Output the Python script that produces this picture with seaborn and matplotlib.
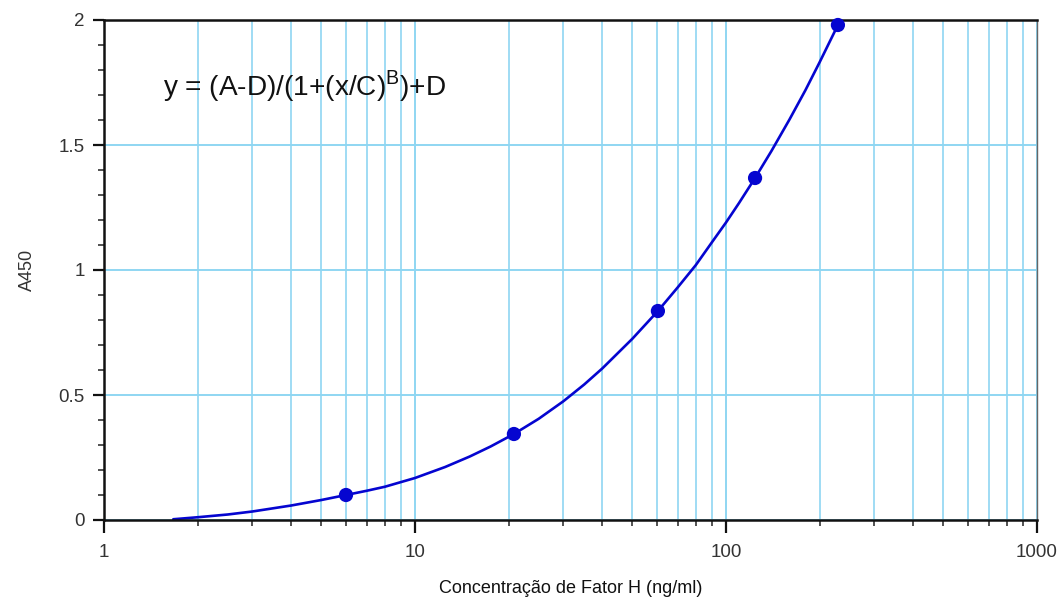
import numpy as np
import pandas as pd
import matplotlib
matplotlib.use('Agg')
import matplotlib.pyplot as plt
import seaborn as sns
from matplotlib.ticker import LogLocator, NullFormatter, MultipleLocator

# standards (measured points)
conc = [6.0, 20.8, 60.4, 124.0, 229.0]
a450 = [0.10, 0.344, 0.836, 1.368, 1.98]

# fitted curve
curve_x = [1.67, 2, 2.5, 3, 4, 5, 6, 7, 8, 10, 12.5, 15, 17.5, 20.8, 25, 30, 35, 40,
           50, 60.4, 70, 80, 90, 100, 110, 124, 140, 160, 180, 200, 229]
curve_y = [0.003, 0.011, 0.022, 0.034, 0.058, 0.08, 0.10, 0.117, 0.133, 0.168, 0.212,
           0.254, 0.294, 0.344, 0.405, 0.475, 0.542, 0.606, 0.725, 0.836, 0.931, 1.02,
           1.11, 1.19, 1.267, 1.368, 1.476, 1.602, 1.719, 1.831, 1.98]

x_ticks = [1, 10, 100, 1000]
y_ticks = [0, 0.5, 1, 1.5, 2]
y_tick_labels = ['0', '0.5', '1', '1.5', '2']

pts = pd.DataFrame({'conc': conc, 'a450': a450})
fit = pd.DataFrame({'conc': curve_x, 'a450': curve_y})

sns.set_style('white')
plt.rcParams['font.family'] = ['Liberation Sans', 'DejaVu Sans']

fig = plt.figure(figsize=(10.63, 6.01), dpi=100)
ax = fig.add_axes([104/1063, 81/601, 933/1063, 500/601])

grid_col = '#8fd6f2'
blue = '#0505d0'

sns.lineplot(data=fit, x='conc', y='a450', ax=ax, color=blue, lw=1.9)
sns.scatterplot(data=pts, x='conc', y='a450', ax=ax, color=blue, s=105,
                edgecolor='none', zorder=5, clip_on=False)

ax.set_xscale('log')
ax.set_xlim(1, 1000)
ax.set_ylim(0, 2)
ax.xaxis.set_minor_locator(LogLocator(base=10, subs=np.arange(2, 10), numticks=10))
ax.xaxis.set_minor_formatter(NullFormatter())
ax.set_xticks(x_ticks)
ax.set_xticklabels([str(t) for t in x_ticks])
ax.set_yticks(y_ticks)
ax.set_yticklabels(y_tick_labels)
ax.yaxis.set_minor_locator(MultipleLocator(0.1))

ax.grid(True, which='major', axis='both', color=grid_col, lw=1.4)
ax.grid(True, which='minor', axis='x', color=grid_col, lw=1.2)
ax.set_axisbelow(True)

for side in ['left', 'bottom', 'top']:
    ax.spines[side].set_color('#111111')
    ax.spines[side].set_linewidth(1.8)
ax.spines['right'].set_color('#666666')
ax.spines['right'].set_linewidth(1.0)

ax.tick_params(axis='both', which='both', bottom=True, left=True, top=False, right=False)
ax.tick_params(axis='both', which='major', direction='out', length=8, width=1.6,
               color='#111111', labelsize=13.5, labelcolor='#333333', pad=6)
ax.tick_params(axis='both', which='minor', direction='out', length=4, width=1.2,
               color='#333333')
ax.tick_params(axis='x', which='major', length=9, pad=8)

ax.set_xlabel('Concentração de Fator H (ng/ml)', fontsize=13, color='#111111', labelpad=14)
ax.set_ylabel('A450', fontsize=13, color='#333333', labelpad=16)

ax.text(0.063, 0.867, r'y = (A-D)/(1+(x/C)$^{\mathregular{B}}$)+D', transform=ax.transAxes,
        fontsize=20.2, color='#111111', va='center', ha='left')

fig.savefig('out.png', dpi=100)
